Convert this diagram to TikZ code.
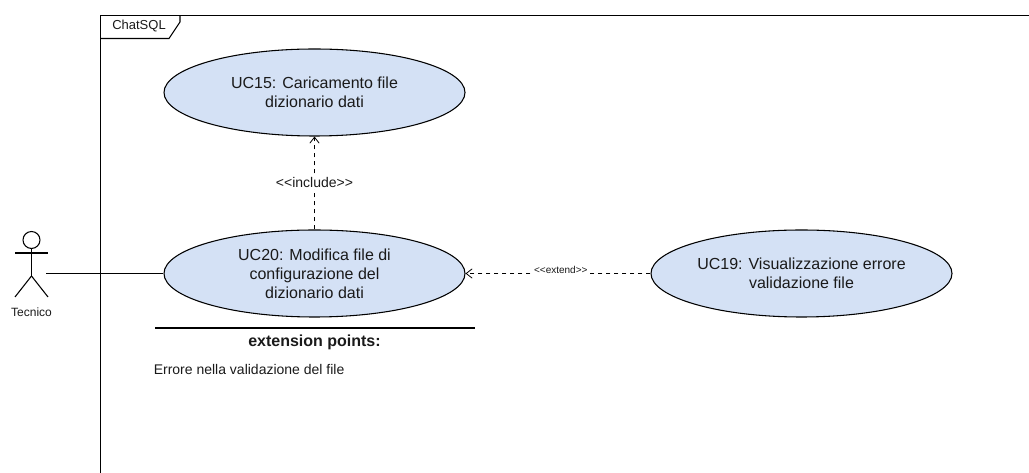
\documentclass[tikz,border=0pt]{standalone}
\usepackage{fontspec}
\setmainfont{Liberation Sans}
\usetikzlibrary{shapes.geometric,arrows.meta}
\definecolor{ucblue}{HTML}{D4E1F5}
\definecolor{inktext}{HTML}{1A1A1A}
\begin{document}
\begin{tikzpicture}[x=0.75pt,y=-0.75pt,
  usecase/.style={draw,ellipse,fill=ucblue,line width=0.8pt,minimum width=225.75pt,minimum height=65.25pt,inner sep=0,align=center,text=inktext,font=\fontsize{12}{14.4}\selectfont},
  dep/.style={dash pattern=on 3pt off 3pt,line width=0.6pt,-{Straight Barb[length=4.5pt,width=7pt]}},
  lbl/.style={text=inktext,inner sep=0,font=\fontsize{#1}{14}\selectfont}]
\useasboundingbox (0,0) rectangle (1029,473);
\draw[line width=0.8pt] (1029,15.5) -- (100.5,15.5) -- (100.5,473);
\draw[line width=0.8pt] (100.5,38.5) -- (169,38.5) -- (180,22) -- (180,15.5);
\node[lbl=9.75] (frame) at (139,26) {ChatSQL};
\node[usecase] (uc15) at (314.5,92.5) {UC15: Caricamento file\\dizionario dati};
\node[usecase] (uc20) at (314.5,273.5) {UC20: Modifica file di\\configurazione del\\dizionario dati};
\node[usecase] (uc19) at (801.5,273.5) {UC19: Visualizzazione errore\\validazione file};
\draw[line width=0.8pt] (31.5,240) circle (8.5);
\draw[line width=0.8pt] (31.5,248.5) -- (31.5,276);
\draw[line width=0.8pt] (15,253) -- (48,253);
\draw[line width=0.8pt] (15,297) -- (31.5,276) -- (48,297);
\node[lbl=9] (tecnico) at (31.5,312) {Tecnico};
\coordinate (hand) at (46,273.5);
\draw[line width=0.8pt] (hand) -- (uc20);
\draw[dep] (uc20) -- (uc15) node[pos=0.5,fill=white,lbl=10.5,inner xsep=0pt,inner ysep=1pt] (incl) {<{}<include>{}>};
\draw[dep] (uc19) -- (uc20) node[pos=0.485,fill=white,lbl=7.5,inner xsep=1pt,inner ysep=1pt,yshift=3pt] (ext) {<{}<extend>{}>};
\draw[line width=1.6pt] (155,328) -- (475,328);
\node[lbl=12,font=\fontsize{12}{14.4}\selectfont\bfseries] (points) at (314.5,342.5) {extension points:};
\node[lbl=10.5,anchor=west] (errore) at (153.5,369) {Errore nella validazione del file};
\end{tikzpicture}
\end{document}
